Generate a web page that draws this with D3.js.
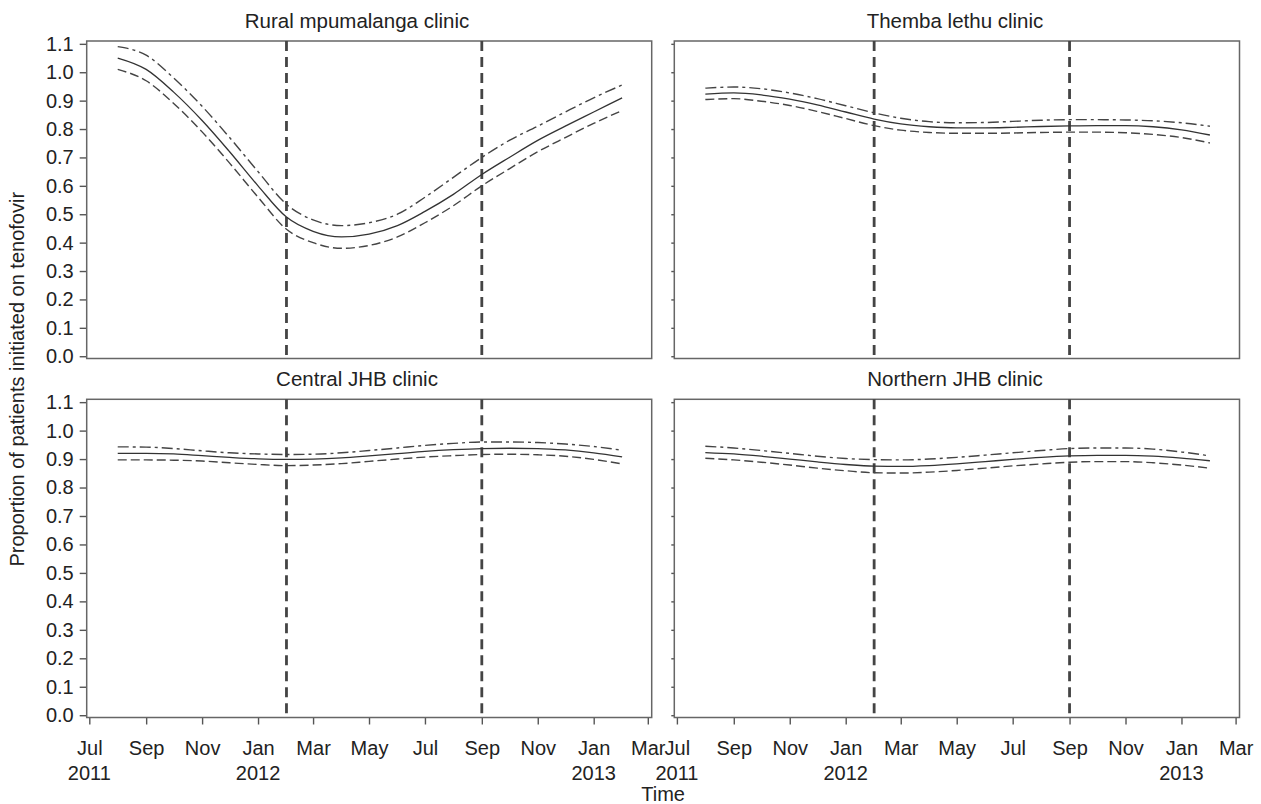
<!DOCTYPE html>
<html>
<head>
<meta charset="utf-8">
<script src="https://cdn.jsdelivr.net/npm/d3@7"></script>
<style>
  body { margin: 0; background: #fff; }
  svg { display: block; font-family: "Liberation Sans", Arial, sans-serif; }
</style>
</head>
<body>
<svg id="chart" width="1261" height="804"></svg>
<script>
// monthly model estimates, Aug 2011 .. Feb 2013
const months = ["2011-08-01","2011-09-01","2011-10-01","2011-11-01","2011-12-01","2012-01-01","2012-02-01",
  "2012-03-01","2012-04-01","2012-05-01","2012-06-01","2012-07-01","2012-08-01","2012-09-01",
  "2012-10-01","2012-11-01","2012-12-01","2013-01-01","2013-02-01"];

const clinicNames = ["Rural mpumalanga clinic", "Themba lethu clinic", "Central JHB clinic", "Northern JHB clinic"];

const ruralEst   = [1.05, 1.01, 0.93, 0.83, 0.72, 0.60, 0.49, 0.44, 0.42, 0.43, 0.46, 0.51, 0.57, 0.64, 0.70, 0.76, 0.81, 0.86, 0.91];
const ruralUpper = [1.09, 1.06, 0.98, 0.88, 0.77, 0.65, 0.535, 0.48, 0.46, 0.47, 0.50, 0.56, 0.63, 0.70, 0.76, 0.81, 0.86, 0.91, 0.955];
const ruralLower = [1.01, 0.97, 0.89, 0.79, 0.68, 0.56, 0.447, 0.40, 0.38, 0.39, 0.42, 0.47, 0.53, 0.60, 0.66, 0.72, 0.77, 0.82, 0.865];

const thembaEst   = [0.923, 0.927, 0.92, 0.905, 0.885, 0.86, 0.835, 0.818, 0.808, 0.804, 0.804, 0.806, 0.809, 0.811, 0.812, 0.812, 0.808, 0.797, 0.779];
const thembaUpper = [0.944, 0.948, 0.942, 0.927, 0.907, 0.882, 0.857, 0.838, 0.826, 0.822, 0.823, 0.827, 0.831, 0.833, 0.833, 0.832, 0.829, 0.822, 0.81];
const thembaLower = [0.904, 0.907, 0.898, 0.883, 0.862, 0.837, 0.812, 0.796, 0.788, 0.785, 0.785, 0.786, 0.788, 0.789, 0.789, 0.787, 0.781, 0.77, 0.751];

const centralEst   = [0.92, 0.92, 0.918, 0.912, 0.906, 0.901, 0.899, 0.90, 0.904, 0.911, 0.919, 0.927, 0.933, 0.937, 0.938, 0.937, 0.932, 0.922, 0.908];
const centralUpper = [0.943, 0.942, 0.937, 0.929, 0.922, 0.918, 0.916, 0.917, 0.922, 0.93, 0.939, 0.948, 0.955, 0.96, 0.96, 0.958, 0.953, 0.944, 0.931];
const centralLower = [0.897, 0.897, 0.896, 0.893, 0.887, 0.881, 0.877, 0.879, 0.884, 0.892, 0.90, 0.907, 0.912, 0.916, 0.917, 0.915, 0.91, 0.899, 0.883];

const northernEst   = [0.923, 0.918, 0.91, 0.90, 0.89, 0.881, 0.875, 0.874, 0.877, 0.883, 0.891, 0.899, 0.906, 0.911, 0.913, 0.913, 0.91, 0.903, 0.894];
const northernUpper = [0.945, 0.939, 0.93, 0.92, 0.91, 0.902, 0.898, 0.897, 0.90, 0.906, 0.914, 0.922, 0.93, 0.937, 0.939, 0.939, 0.935, 0.925, 0.911];
const northernLower = [0.903, 0.897, 0.889, 0.879, 0.868, 0.859, 0.852, 0.851, 0.854, 0.86, 0.868, 0.876, 0.883, 0.889, 0.891, 0.891, 0.887, 0.879, 0.868];

// policy change dates (vertical reference lines)
const changeDates = ["2012-02-01", "2012-09-01"];

const yTicks = [0, 0.1, 0.2, 0.3, 0.4, 0.5, 0.6, 0.7, 0.8, 0.9, 1.0, 1.1];
const xTickDates = ["2011-07-01","2011-09-01","2011-11-01","2012-01-01","2012-03-01","2012-05-01",
  "2012-07-01","2012-09-01","2012-11-01","2013-01-01","2013-03-01"];
const yearTicks = ["2011-07-01", "2012-01-01", "2013-01-01"];

const parse = d3.utcParse("%Y-%m-%d");
const monthDates = months.map(parse);

const series = [
  { est: ruralEst, upper: ruralUpper, lower: ruralLower },
  { est: thembaEst, upper: thembaUpper, lower: thembaLower },
  { est: centralEst, upper: centralUpper, lower: centralLower },
  { est: northernEst, upper: northernUpper, lower: northernLower }
];

// panel boxes: col 0/1, row 0/1
const colX = [[86.7, 651.7], [674.3, 1239.5]];
const rowY = [[41, 358.5], [399.3, 717.5]];
const titleX = [357, 955];

const svg = d3.select("#chart");
const ink = "#333";
const fs = 20;

series.forEach((s, i) => {
  const col = i % 2, row = Math.floor(i / 2);
  const [x0, x1] = colX[col];
  const [y0, y1] = rowY[row];

  const x = d3.scaleUtc()
    .domain([parse("2011-07-01"), parse("2013-03-01")])
    .range([x0 + 2.6, x1 - 3.9]);
  const y = d3.scaleLinear()
    .domain([-0.008, 1.11])
    .range([y1, y0]);

  const g = svg.append("g");

  // title
  g.append("text")
    .attr("x", titleX[col])
    .attr("y", y0 - 13)
    .attr("text-anchor", "middle")
    .attr("font-size", 20.5)
    .attr("fill", "#222")
    .text(clinicNames[i]);

  // y axis
  const yAxis = d3.axisLeft(y)
    .tickValues(yTicks)
    .tickSize(col === 0 ? 7 : 3)
    .tickPadding(6)
    .tickFormat(col === 0 ? d3.format(".1f") : "");
  const ya = g.append("g").attr("transform", `translate(${x0},0)`).call(yAxis);
  ya.select(".domain").remove();
  ya.selectAll("line").attr("stroke", "#555").attr("stroke-width", 1.4);
  ya.selectAll("text").attr("font-size", fs).attr("fill", "#222").attr("font-family", null);

  // x axis on bottom row
  if (row === 1) {
    const xAxis = d3.axisBottom(x)
      .tickValues(xTickDates.map(parse))
      .tickSize(7)
      .tickPadding(16)
      .tickFormat(d3.utcFormat("%b"));
    const xa = g.append("g").attr("transform", `translate(0,${y1})`).call(xAxis);
    xa.select(".domain").remove();
    xa.selectAll("line").attr("stroke", "#555").attr("stroke-width", 1.4);
    xa.selectAll("text").attr("font-size", fs).attr("fill", "#222").attr("font-family", null);

    g.selectAll(".year")
      .data(yearTicks.map(parse))
      .join("text")
      .attr("class", "year")
      .attr("x", d => x(d))
      .attr("y", y1 + 62)
      .attr("text-anchor", "middle")
      .attr("font-size", fs)
      .attr("fill", "#222")
      .text(d3.utcFormat("%Y"));
  }

  // frame
  g.append("rect")
    .attr("x", x0).attr("y", y0)
    .attr("width", x1 - x0).attr("height", y1 - y0)
    .attr("fill", "none")
    .attr("stroke", "#666")
    .attr("stroke-width", 1.5);

  // vertical reference lines
  g.selectAll(".ref")
    .data(changeDates.map(parse))
    .join("line")
    .attr("class", "ref")
    .attr("x1", d => x(d)).attr("x2", d => x(d))
    .attr("y1", y0).attr("y2", y1)
    .attr("stroke", "#444")
    .attr("stroke-width", 2.8)
    .attr("stroke-dasharray", "10,6");

  const line = d3.line()
    .x((d, k) => x(monthDates[k]))
    .y(d => y(d))
    .curve(d3.curveMonotoneX);

  g.append("path").datum(s.upper)
    .attr("d", line).attr("fill", "none")
    .attr("stroke", "#444").attr("stroke-width", 1.4)
    .attr("stroke-dasharray", "11,4,3,4");
  g.append("path").datum(s.lower)
    .attr("d", line).attr("fill", "none")
    .attr("stroke", "#444").attr("stroke-width", 1.4)
    .attr("stroke-dasharray", "9,4");
  g.append("path").datum(s.est)
    .attr("d", line).attr("fill", "none")
    .attr("stroke", ink).attr("stroke-width", 1.3);
});

// shared axis titles
svg.append("text")
  .attr("transform", `translate(24,${(rowY[0][0] + rowY[1][1]) / 2}) rotate(-90)`)
  .attr("text-anchor", "middle")
  .attr("font-size", fs)
  .attr("fill", "#222")
  .text("Proportion of patients initiated on tenofovir");

svg.append("text")
  .attr("x", (colX[0][0] + colX[1][1]) / 2)
  .attr("y", 801)
  .attr("text-anchor", "middle")
  .attr("font-size", fs)
  .attr("fill", "#222")
  .text("Time");
</script>
</body>
</html>
